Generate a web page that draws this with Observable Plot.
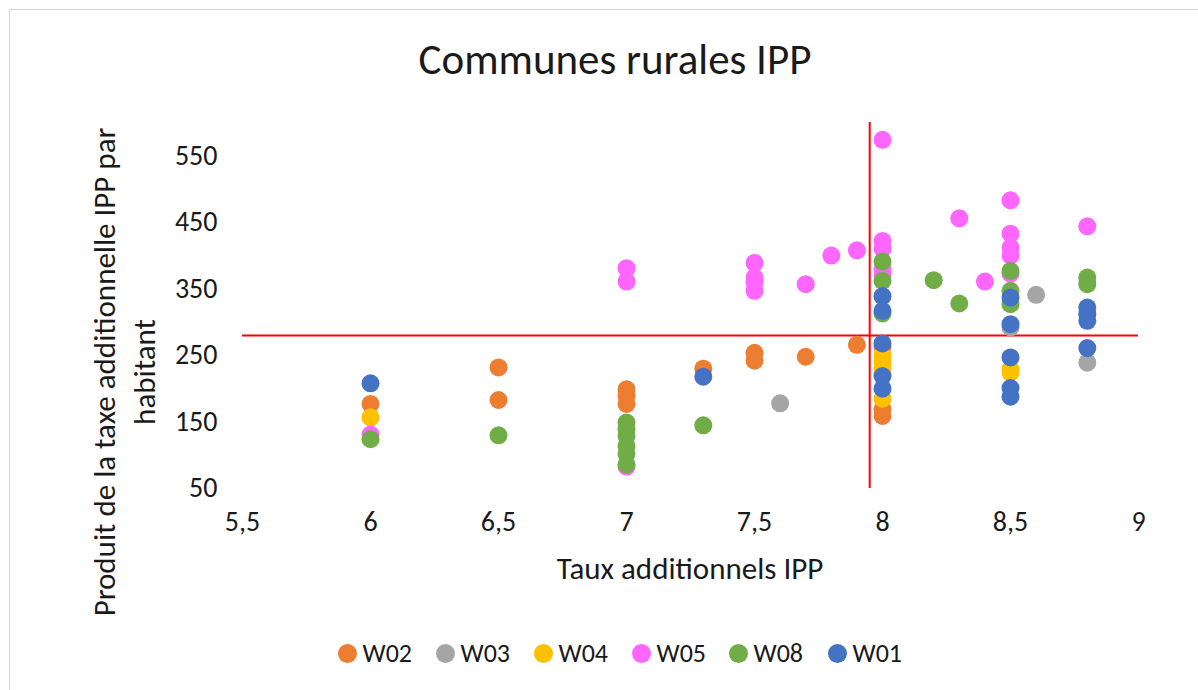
<!DOCTYPE html>
<html>
<head>
<meta charset="utf-8">
<script src="https://cdn.jsdelivr.net/npm/d3@7"></script>
<script src="https://cdn.jsdelivr.net/npm/@observablehq/plot@0.6"></script>
<style>
  html, body { margin: 0; padding: 0; background: #fff; }
  #wrap { position: relative; width: 1198px; height: 690px; overflow: hidden; font-family: Carlito, Lato, sans-serif; color: #1a1a1a; }
  #frame { position: absolute; left: 9px; top: 9px; width: 1400px; height: 900px; border: 1.5px solid #c9d7e6; box-sizing: border-box; }
  #title { position: absolute; left: 0; width: 1230px; top: 33px; text-align: center; font-size: 43px; }
  #xtitle { position: absolute; left: 0; width: 1380px; top: 549px; text-align: center; font-size: 31px; }
  #ytitle { position: absolute; left: 124px; top: 372px; width: 700px; transform: translate(-50%, -50%) rotate(-90deg); text-align: center; font-size: 31px; line-height: 40px; }
  #legend { position: absolute; top: 638px; left: 0; width: 1198px; height: 30px; font-size: 26px; }
  .li { position: absolute; top: 0; display: flex; align-items: center; height: 30px; }
  .sw { width: 19px; height: 19px; border-radius: 50%; margin-right: 6px; }
  #chart { position: absolute; left: 0; top: 0; }
</style>
</head>
<body>
<div id="wrap">
  <div id="frame"></div>
  <div id="chart"></div>
  <div id="title">Communes rurales IPP</div>
  <div id="ytitle">Produit de la taxe additionnelle IPP par<br>habitant</div>
  <div id="xtitle">Taux additionnels IPP</div>
  <div id="legend"></div>
</div>
<script>
// Series: [taux, produit par habitant]
const W02 = [[6,177],[6.5,232],[6.5,183],[7,199],[7,189],[7,177],[7.3,230],[7.5,254],[7.5,242],[7.7,248],[7.9,266],[8,263],[8,169],[8,159]];
const W03 = [[7.6,178],[8.5,292],[8.6,341],[8.8,239]];
const W04 = [[6,157],[8,250],[8,240],[8,230],[8,222],[8,185],[8.5,229],[8.5,224]];
const W05 = [[6,131],[7,381],[7,361],[7,83],[7.5,389],[7.5,367],[7.5,360],[7.5,347],[7.7,357],[7.8,400],[7.9,408],[8,574],[8,422],[8,410],[8,380],[8,370],[8.3,456],[8.4,361],[8.5,483],[8.5,433],[8.5,412],[8.5,400],[8.5,373],[8.8,444]];
const W08 = [[6,124],[6.5,130],[7,149],[7,139],[7,129],[7,114],[7,102],[7,86],[7.3,145],[8,391],[8,362],[8,313],[8.2,363],[8.3,328],[8.5,377],[8.5,347],[8.5,327],[8.8,367],[8.8,357]];
const W01 = [[6,208],[7.3,218],[8,339],[8,317],[8,268],[8,219],[8,200],[8.5,337],[8.5,297],[8.5,247],[8.5,201],[8.5,188],[8.8,322],[8.8,312],[8.8,302],[8.8,261]];

const seriesNames = ["W02","W03","W04","W05","W08","W01"];
const seriesData = [W02, W03, W04, W05, W08, W01];
const seriesColors = ["#ED7D31","#A5A5A5","#FFC000","#FF66FF","#70AD47","#4472C4"];

const xTicks = [5.5, 6, 6.5, 7, 7.5, 8, 8.5, 9];
const yTicks = [50, 150, 250, 350, 450, 550];
const refX = 7.95;   // vertical reference line
const refY = 280;    // horizontal reference line

const rows = seriesData.flatMap((arr, i) => arr.map(([x, y]) => ({x, y, s: seriesNames[i]})));

const fmt = d => String(d).replace(".", ",");

const chart = Plot.plot({
  width: 1198,
  height: 690,
  marginLeft: 242,
  marginRight: 60,
  marginTop: 122,
  marginBottom: 202,
  style: { fontFamily: "Carlito, Lato, sans-serif", fontSize: "28px", color: "#1a1a1a", background: "transparent" },
  x: { domain: [5.5, 9] },
  y: { domain: [50, 600] },
  color: { domain: seriesNames, range: seriesColors },
  marks: [
    Plot.axisX({ ticks: xTicks, tickFormat: fmt, tickSize: 0, tickPadding: 23, label: null }),
    Plot.axisY({ ticks: yTicks, tickSize: 0, tickPadding: 25, label: null }),
    Plot.ruleY([refY], { stroke: "#FF0000", strokeWidth: 2 }),
    Plot.ruleX([refX], { stroke: "#FF0000", strokeWidth: 2 }),
    Plot.dot(rows, { x: "x", y: "y", fill: "s", r: 9, stroke: "none" })
  ]
});
document.getElementById("chart").appendChild(chart);

// legend
const legendX = [347, 445, 543, 641, 738, 837];
const leg = document.getElementById("legend");
seriesNames.forEach((n, i) => {
  const d = document.createElement("div");
  d.className = "li";
  d.style.left = (legendX[i] - 9.5) + "px";
  d.innerHTML = `<span class="sw" style="background:${seriesColors[i]}"></span><span>${n}</span>`;
  leg.appendChild(d);
});
</script>
</body>
</html>
